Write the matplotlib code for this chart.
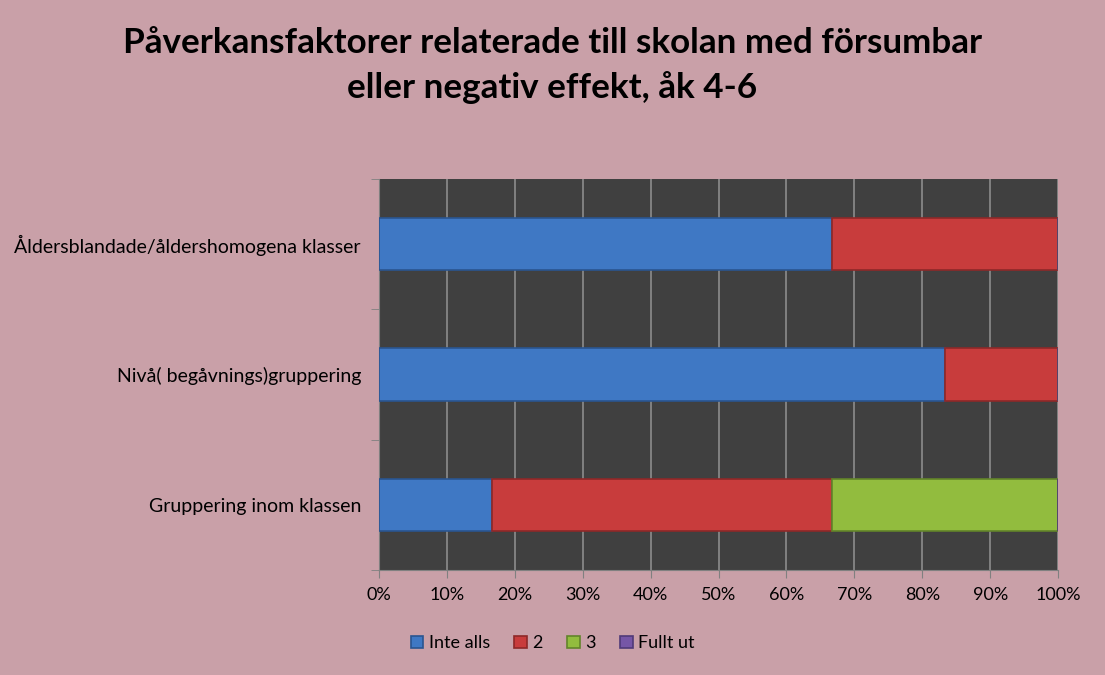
import matplotlib
matplotlib.use("Agg")
import matplotlib.pyplot as plt
import numpy as np

# Data (percent of answers)
categories = ["Gruppering inom klassen",
              "Nivå( begåvnings)gruppering",
              "Åldersblandade/åldershomogena klasser"]
series_names = ["Inte alls", "2", "3", "Fullt ut"]
inte_alls = [16.7, 83.3, 66.7]
val_2 = [50.0, 16.7, 33.3]
val_3 = [33.3, 0.0, 0.0]
fullt_ut = [0.0, 0.0, 0.0]
x_ticks = [0, 10, 20, 30, 40, 50, 60, 70, 80, 90, 100]

colors = ["#3F78C4", "#C83C3C", "#92BC3E", "#7656A6"]
edges = ["#2A5590", "#8E2828", "#62842A", "#503A78"]
bg = "#C9A0A8"

plt.rcParams['font.family'] = ['Lato', 'DejaVu Sans']

fig = plt.figure(figsize=(11.05, 6.75), dpi=100, facecolor=bg)
ax = fig.add_axes([0.343, 0.1556, 0.6145, 0.5792])
ax.set_facecolor("#404040")

y = np.arange(len(categories))
left = np.zeros(len(categories))
for name, vals, c, e in zip(series_names, [inte_alls, val_2, val_3, fullt_ut], colors, edges):
    vals = np.array(vals)
    ax.barh(y, vals, left=left, height=0.4, color=c, edgecolor=e, linewidth=1.2,
            label=name, zorder=3)
    left += vals

ax.set_xlim(0, 100)
ax.set_ylim(-0.5, len(categories) - 0.5)
ax.set_xticks(x_ticks)
ax.set_xticklabels([f"{t}%" for t in x_ticks], fontsize=13)
ax.set_yticks(y)
ax.set_yticklabels(categories, fontsize=14)
ax.set_yticks(np.arange(-0.5, len(categories)), minor=True)
ax.tick_params(axis='y', which='major', length=0, pad=13)
ax.tick_params(axis='y', which='minor', length=6, color="#808080")
ax.tick_params(axis='x', length=6, color="#808080", pad=6)
ax.grid(axis='x', color="#8C8C8C", linewidth=1.2, zorder=1)
for s in ["top", "right"]:
    ax.spines[s].set_visible(False)
for s in ["left", "bottom"]:
    ax.spines[s].set_color("#808080")

fig.text(0.5, 0.903, "Påverkansfaktorer relaterade till skolan med försumbar\neller negativ effekt, åk 4-6",
         ha='center', va='center', fontsize=25.2, fontweight='bold', linespacing=1.42)

leg = fig.legend(loc='center', bbox_to_anchor=(0.5, 0.047), ncol=4, frameon=False,
                 fontsize=13, handlelength=0.7, handleheight=0.7, handletextpad=0.3,
                 columnspacing=1.35)

fig.savefig("out.png", dpi=100, facecolor=bg)
